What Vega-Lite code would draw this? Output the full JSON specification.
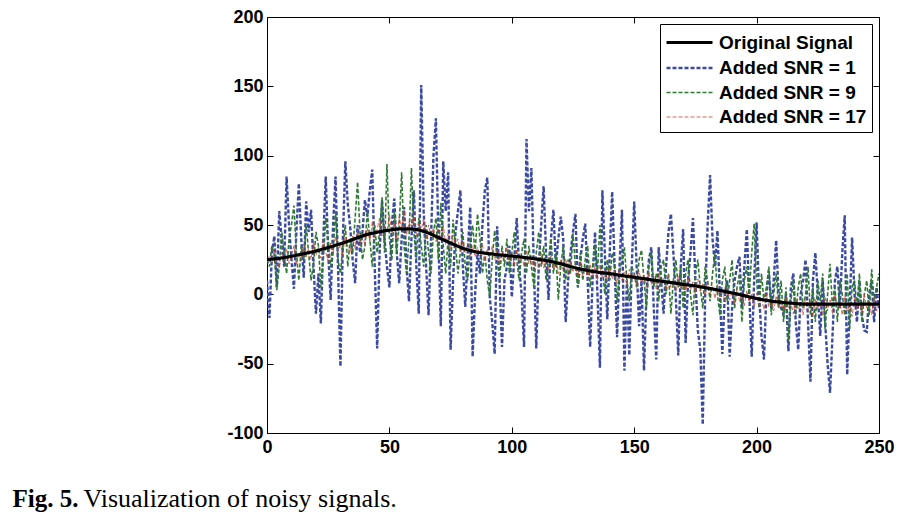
{
  "$schema": "https://vega.github.io/schema/vega-lite/v6.json",
  "autosize": "none",
  "padding": {"left": 267, "top": 17, "right": 35, "bottom": 83},
  "width": 612,
  "height": 416,
  "background": "white",
  "datasets": {
    "noise": [
{"x":0,"a":10,"b":25,"c":25},{"x":1,"a":-17,"b":20,"c":28},{"x":2,"a":30,"b":35,"c":22},{"x":3,"a":42,"b":28,"c":32},{"x":4,"a":5,"b":3,"c":24},
{"x":5,"a":60,"b":20,"c":19},{"x":6,"a":40,"b":45,"c":30},{"x":7,"a":20,"b":30,"c":24},{"x":8,"a":85,"b":15,"c":33},{"x":9,"a":50,"b":40,"c":22},
{"x":10,"a":25,"b":50,"c":28},{"x":11,"a":4,"b":64,"c":35},{"x":12,"a":45,"b":30,"c":21},{"x":13,"a":80,"b":10,"c":30},{"x":14,"a":40,"b":35,"c":24},
{"x":15,"a":12,"b":25,"c":36},{"x":16,"a":67,"b":50,"c":27},{"x":17,"a":45,"b":30,"c":33},{"x":18,"a":61,"b":10,"c":25},{"x":19,"a":20,"b":22,"c":38},
{"x":20,"a":-14,"b":45,"c":28},{"x":21,"a":15,"b":35,"c":34},{"x":22,"a":-21,"b":5,"c":26},{"x":23,"a":40,"b":25,"c":40},{"x":24,"a":85,"b":55,"c":30},
{"x":25,"a":30,"b":40,"c":24},{"x":26,"a":-4,"b":20,"c":37},{"x":27,"a":50,"b":30,"c":30},{"x":28,"a":85,"b":60,"c":42},{"x":29,"a":20,"b":25,"c":31},
{"x":30,"a":-52,"b":15,"c":36},{"x":31,"a":40,"b":35,"c":28},{"x":32,"a":96,"b":50,"c":44},{"x":33,"a":65,"b":20,"c":34},{"x":34,"a":48,"b":40,"c":30},
{"x":35,"a":25,"b":30,"c":42},{"x":36,"a":8,"b":55,"c":33},{"x":37,"a":50,"b":81,"c":46},{"x":38,"a":30,"b":45,"c":36},{"x":39,"a":45,"b":25,"c":44},
{"x":40,"a":68,"b":35,"c":35},{"x":41,"a":56,"b":60,"c":48},{"x":42,"a":75,"b":40,"c":38},{"x":43,"a":90,"b":20,"c":52},{"x":44,"a":20,"b":50,"c":41},
{"x":45,"a":-39,"b":30,"c":47},{"x":46,"a":30,"b":45,"c":55},{"x":47,"a":68,"b":70,"c":42},{"x":48,"a":40,"b":30,"c":50},{"x":49,"a":20,"b":94,"c":45},
{"x":50,"a":5,"b":40,"c":58},{"x":51,"a":50,"b":25,"c":44},{"x":52,"a":69,"b":60,"c":52},{"x":53,"a":30,"b":30,"c":40},{"x":54,"a":8,"b":50,"c":56},
{"x":55,"a":40,"b":88,"c":46},{"x":56,"a":63,"b":35,"c":60},{"x":57,"a":20,"b":15,"c":43},{"x":58,"a":-5,"b":40,"c":52},{"x":59,"a":40,"b":91,"c":48},
{"x":60,"a":75,"b":45,"c":58},{"x":61,"a":20,"b":25,"c":42},{"x":62,"a":-14,"b":55,"c":51},{"x":63,"a":151,"b":35,"c":46},{"x":64,"a":60,"b":20,"c":55},
{"x":65,"a":20,"b":50,"c":40},{"x":66,"a":-15,"b":30,"c":50},{"x":67,"a":40,"b":15,"c":42},{"x":68,"a":100,"b":45,"c":48},{"x":69,"a":127,"b":55,"c":38},
{"x":70,"a":40,"b":25,"c":47},{"x":71,"a":-23,"b":66,"c":40},{"x":72,"a":96,"b":35,"c":50},{"x":73,"a":60,"b":15,"c":36},{"x":74,"a":88,"b":40,"c":44},
{"x":75,"a":-40,"b":20,"c":33},{"x":76,"a":10,"b":54,"c":43},{"x":77,"a":45,"b":35,"c":35},{"x":78,"a":60,"b":15,"c":40},{"x":79,"a":75,"b":30,"c":30},
{"x":80,"a":20,"b":45,"c":38},{"x":81,"a":-9,"b":20,"c":30},{"x":82,"a":30,"b":10,"c":37},{"x":83,"a":63,"b":35,"c":28},{"x":84,"a":-45,"b":50,"c":35},
{"x":85,"a":0,"b":30,"c":27},{"x":86,"a":30,"b":58,"c":34},{"x":87,"a":15,"b":40,"c":28},{"x":88,"a":50,"b":15,"c":36},{"x":89,"a":75,"b":30,"c":24},
{"x":90,"a":84,"b":10,"c":33},{"x":91,"a":-2,"b":-2,"c":26},{"x":92,"a":-20,"b":25,"c":35},{"x":93,"a":-43,"b":46,"c":25},{"x":94,"a":49,"b":30,"c":32},
{"x":95,"a":10,"b":10,"c":22},{"x":96,"a":-38,"b":35,"c":31},{"x":97,"a":10,"b":20,"c":25},{"x":98,"a":20,"b":40,"c":34},{"x":99,"a":35,"b":15,"c":23},
{"x":100,"a":-2,"b":30,"c":30},{"x":101,"a":25,"b":45,"c":21},{"x":102,"a":55,"b":25,"c":32},{"x":103,"a":20,"b":10,"c":24},{"x":104,"a":0,"b":30,"c":29},
{"x":105,"a":-38,"b":40,"c":20},{"x":106,"a":112,"b":15,"c":31},{"x":107,"a":60,"b":35,"c":22},{"x":108,"a":91,"b":20,"c":28},{"x":109,"a":20,"b":5,"c":18},
{"x":110,"a":-39,"b":30,"c":27},{"x":111,"a":20,"b":45,"c":20},{"x":112,"a":50,"b":20,"c":30},{"x":113,"a":78,"b":35,"c":19},{"x":114,"a":30,"b":10,"c":26},
{"x":115,"a":-4,"b":25,"c":17},{"x":116,"a":40,"b":40,"c":28},{"x":117,"a":61,"b":15,"c":18},{"x":118,"a":20,"b":30,"c":24},{"x":119,"a":40,"b":-4,"c":15},
{"x":120,"a":56,"b":20,"c":25},{"x":121,"a":40,"b":35,"c":17},{"x":122,"a":-20,"b":10,"c":26},{"x":123,"a":10,"b":25,"c":14},{"x":124,"a":30,"b":15,"c":24},
{"x":125,"a":45,"b":44,"c":16},{"x":126,"a":58,"b":20,"c":22},{"x":127,"a":5,"b":5,"c":12},{"x":128,"a":25,"b":30,"c":23},{"x":129,"a":40,"b":10,"c":14},
{"x":130,"a":51,"b":25,"c":21},{"x":131,"a":10,"b":35,"c":11},{"x":132,"a":-38,"b":5,"c":22},{"x":133,"a":10,"b":20,"c":13},{"x":134,"a":45,"b":35,"c":20},
{"x":135,"a":0,"b":15,"c":10},{"x":136,"a":-53,"b":50,"c":21},{"x":137,"a":75,"b":20,"c":12},{"x":138,"a":30,"b":0,"c":18},{"x":139,"a":-18,"b":25,"c":9},
{"x":140,"a":30,"b":10,"c":20},{"x":141,"a":74,"b":30,"c":11},{"x":142,"a":20,"b":20,"c":17},{"x":143,"a":-31,"b":-5,"c":8},{"x":144,"a":20,"b":15,"c":19},
{"x":145,"a":61,"b":25,"c":10},{"x":146,"a":-55,"b":34,"c":16},{"x":147,"a":10,"b":10,"c":7},{"x":148,"a":-44,"b":-5,"c":18},{"x":149,"a":20,"b":20,"c":9},
{"x":150,"a":67,"b":15,"c":15},{"x":151,"a":20,"b":5,"c":6},{"x":152,"a":-23,"b":25,"c":17},{"x":153,"a":10,"b":32,"c":8},{"x":154,"a":-55,"b":10,"c":14},
{"x":155,"a":0,"b":-10,"c":5},{"x":156,"a":25,"b":20,"c":16},{"x":157,"a":34,"b":30,"c":7},{"x":158,"a":-10,"b":5,"c":13},{"x":159,"a":-47,"b":15,"c":4},
{"x":160,"a":34,"b":-5,"c":15},{"x":161,"a":10,"b":20,"c":6},{"x":162,"a":-14,"b":25,"c":12},{"x":163,"a":20,"b":0,"c":3},{"x":164,"a":45,"b":15,"c":14},
{"x":165,"a":58,"b":-14,"c":5},{"x":166,"a":30,"b":10,"c":11},{"x":167,"a":-2,"b":25,"c":2},{"x":168,"a":-44,"b":5,"c":13},{"x":169,"a":20,"b":20,"c":4},
{"x":170,"a":47,"b":-10,"c":10},{"x":171,"a":-35,"b":15,"c":1},{"x":172,"a":10,"b":25,"c":12},{"x":173,"a":30,"b":0,"c":3},{"x":174,"a":55,"b":-15,"c":9},
{"x":175,"a":10,"b":15,"c":0},{"x":176,"a":-26,"b":25,"c":11},{"x":177,"a":-40,"b":5,"c":2},{"x":178,"a":-94,"b":-10,"c":8},{"x":179,"a":0,"b":20,"c":-1},
{"x":180,"a":50,"b":10,"c":9},{"x":181,"a":86,"b":-5,"c":0},{"x":182,"a":40,"b":15,"c":6},{"x":183,"a":20,"b":30,"c":-3},{"x":184,"a":46,"b":0,"c":7},
{"x":185,"a":0,"b":-15,"c":-2},{"x":186,"a":-43,"b":10,"c":4},{"x":187,"a":0,"b":20,"c":-5},{"x":188,"a":10,"b":-5,"c":5},{"x":189,"a":-45,"b":10,"c":-4},
{"x":190,"a":-10,"b":25,"c":2},{"x":191,"a":10,"b":-10,"c":-7},{"x":192,"a":20,"b":5,"c":4},{"x":193,"a":27,"b":15,"c":-5},{"x":194,"a":-10,"b":-20,"c":1},
{"x":195,"a":20,"b":10,"c":-8},{"x":196,"a":47,"b":20,"c":3},{"x":197,"a":0,"b":0,"c":-6},{"x":198,"a":-45,"b":30,"c":0},{"x":199,"a":10,"b":51,"c":-10},
{"x":200,"a":52,"b":10,"c":1},{"x":201,"a":0,"b":-10,"c":-8},{"x":202,"a":-30,"b":15,"c":-2},{"x":203,"a":-47,"b":-5,"c":-11},{"x":204,"a":0,"b":5,"c":0},
{"x":205,"a":17,"b":20,"c":-9},{"x":206,"a":-10,"b":-15,"c":-3},{"x":207,"a":10,"b":0,"c":-12},{"x":208,"a":39,"b":15,"c":-1},{"x":209,"a":0,"b":-10,"c":-10},
{"x":210,"a":-10,"b":10,"c":-4},{"x":211,"a":-14,"b":-20,"c":-13},{"x":212,"a":0,"b":5,"c":-2},{"x":213,"a":-41,"b":-33,"c":-10},{"x":214,"a":5,"b":-5,"c":-5},
{"x":215,"a":15,"b":10,"c":-14},{"x":216,"a":-20,"b":-15,"c":-3},{"x":217,"a":-40,"b":5,"c":-11},{"x":218,"a":0,"b":15,"c":-6},{"x":219,"a":10,"b":-10,"c":-15},
{"x":220,"a":25,"b":0,"c":-2},{"x":221,"a":-20,"b":20,"c":-12},{"x":222,"a":-63,"b":-15,"c":-5},{"x":223,"a":10,"b":5,"c":-16},{"x":224,"a":30,"b":-20,"c":-3},
{"x":225,"a":0,"b":10,"c":-11},{"x":226,"a":-30,"b":-5,"c":-6},{"x":227,"a":10,"b":15,"c":-15},{"x":228,"a":-20,"b":-25,"c":-2},{"x":229,"a":-50,"b":0,"c":-12},
{"x":230,"a":-71,"b":22,"c":-4},{"x":231,"a":-30,"b":-10,"c":-14},{"x":232,"a":10,"b":5,"c":0},{"x":233,"a":20,"b":-20,"c":-10},{"x":234,"a":-10,"b":10,"c":-5},
{"x":235,"a":30,"b":0,"c":-15},{"x":236,"a":57,"b":-15,"c":-1},{"x":237,"a":-58,"b":15,"c":-12},{"x":238,"a":-10,"b":-25,"c":-6},{"x":239,"a":41,"b":5,"c":-16},
{"x":240,"a":0,"b":10,"c":-2},{"x":241,"a":-20,"b":-10,"c":-11},{"x":242,"a":10,"b":15,"c":-4},{"x":243,"a":-15,"b":-20,"c":-14},{"x":244,"a":-26,"b":0,"c":0},
{"x":245,"a":-27,"b":10,"c":-10},{"x":246,"a":0,"b":-15,"c":-5},{"x":247,"a":10,"b":18,"c":-15},{"x":248,"a":-20,"b":-5,"c":-2},{"x":249,"a":5,"b":5,"c":-12},
{"x":250,"a":-10,"b":15,"c":-6}
    ],
    "orig": [
{"x":0,"s":"o","v":25},{"x":5,"s":"o","v":26},{"x":10,"s":"o","v":27.5},{"x":15,"s":"o","v":29.3},{"x":20,"s":"o","v":31.3},
{"x":25,"s":"o","v":33.8},{"x":30,"s":"o","v":36.5},{"x":35,"s":"o","v":39.5},{"x":40,"s":"o","v":42.7},{"x":45,"s":"o","v":44.8},
{"x":50,"s":"o","v":46.3},{"x":55,"s":"o","v":47.2},{"x":60,"s":"o","v":47},{"x":65,"s":"o","v":44.8},{"x":70,"s":"o","v":41},
{"x":75,"s":"o","v":37},{"x":80,"s":"o","v":33.3},{"x":85,"s":"o","v":30.8},{"x":90,"s":"o","v":29.5},{"x":95,"s":"o","v":28.5},
{"x":100,"s":"o","v":27.6},{"x":105,"s":"o","v":26.6},{"x":110,"s":"o","v":25.5},{"x":115,"s":"o","v":24},{"x":120,"s":"o","v":22},
{"x":125,"s":"o","v":19.6},{"x":130,"s":"o","v":17.6},{"x":135,"s":"o","v":16},{"x":140,"s":"o","v":15},{"x":145,"s":"o","v":13.5},
{"x":150,"s":"o","v":12.3},{"x":155,"s":"o","v":11},{"x":160,"s":"o","v":9.7},{"x":165,"s":"o","v":8.5},{"x":170,"s":"o","v":7.2},
{"x":175,"s":"o","v":6},{"x":180,"s":"o","v":4.5},{"x":185,"s":"o","v":2.8},{"x":190,"s":"o","v":1},{"x":195,"s":"o","v":-1},
{"x":200,"s":"o","v":-3},{"x":205,"s":"o","v":-4.6},{"x":210,"s":"o","v":-5.7},{"x":215,"s":"o","v":-6.5},{"x":220,"s":"o","v":-7},
{"x":225,"s":"o","v":-7},{"x":230,"s":"o","v":-7},{"x":235,"s":"o","v":-7},{"x":240,"s":"o","v":-7},{"x":245,"s":"o","v":-7},
{"x":250,"s":"o","v":-7}
    ]
  },
  "layer": [
    {
      "data": {"name": "noise"},
      "transform": [{"fold": ["a", "b", "c"], "as": ["s", "v"]}],
      "mark": {"type": "line", "clip": true},
      "encoding": {
        "x": {"field": "x", "type": "quantitative", "scale": {"domain": [0, 250], "nice": false},
          "axis": {"orient": "bottom", "values": [0, 50, 100, 150, 200, 250], "labelPadding": 11, "labelFlush": false,
            "title": "Fig. 5.", "titleX": -255, "titleY": 73, "titleAlign": "left", "titleBaseline": "alphabetic",
            "titleFont": "Liberation Serif", "titleFontSize": 25, "titleFontWeight": "bold", "titleColor": "black"}},
        "y": {"field": "v", "type": "quantitative", "scale": {"domain": [-100, 200], "nice": false},
          "axis": {"orient": "left", "values": [-100, -50, 0, 50, 100, 150, 200], "labelPadding": 10, "labelFlush": false, "title": null,
            "labelExpr": "datum.value < 0 ? '-' + abs(datum.value) : '' + datum.value"}},
        "color": {"field": "s", "type": "nominal", "scale": {"domain": ["o", "a", "b", "c"], "range": ["#000000", "#3a49a2", "#2f7a32", "#cc4030"]},
          "legend": {"orient": "top-right", "offset": 7, "title": null,
            "labelExpr": "datum.value == 'o' ? 'Original Signal' : datum.value == 'a' ? 'Added SNR = 1' : datum.value == 'b' ? 'Added SNR = 9' : 'Added SNR = 17'",
            "labelFont": "Liberation Sans", "labelFontWeight": "bold", "labelFontSize": 19, "labelColor": "black",
            "symbolType": "M-2,0H2", "symbolSize": 529, "symbolOffset": 11, "labelOffset": 16,
            "strokeColor": "black", "fillColor": "white", "padding": 5, "rowPadding": 2}},
        "strokeDash": {"field": "s", "type": "nominal", "scale": {"domain": ["o", "a", "b", "c"], "range": [[1, 0], [4, 2], [4, 2], [4, 2]]}},
        "strokeWidth": {"field": "s", "type": "nominal", "scale": {"domain": ["o", "a", "b", "c"], "range": [3.2, 0.8, 0.8, 0.8]}}
      }
    },
    {
      "data": {"name": "orig"},
      "mark": {"type": "line", "interpolate": "monotone"},
      "encoding": {
        "x": {"field": "x", "type": "quantitative",
          "axis": {"orient": "top", "values": [0, 50, 100, 150, 200, 250], "labels": false,
            "title": "Visualization of noisy signals.", "titleX": -184, "titleY": 489, "titleAlign": "left", "titleBaseline": "alphabetic",
            "titleFont": "Liberation Serif", "titleFontSize": 26, "titleFontWeight": "normal", "titleColor": "black"}},
        "y": {"field": "v", "type": "quantitative",
          "axis": {"orient": "right", "values": [-100, -50, 0, 50, 100, 150, 200], "labels": false, "title": null}},
        "color": {"field": "s", "type": "nominal"},
        "strokeDash": {"field": "s", "type": "nominal"},
        "strokeWidth": {"field": "s", "type": "nominal"}
      }
    }
  ],
  "resolve": {"axis": {"x": "independent", "y": "independent"}},
  "config": {
    "view": {"stroke": "black", "strokeWidth": 1},
    "axis": {"domain": false, "grid": false, "labelFont": "Liberation Sans", "labelFontWeight": "bold", "labelFontSize": 18,
      "labelColor": "black", "tickColor": "black", "tickSize": -6, "tickWidth": 1}
  }
}
